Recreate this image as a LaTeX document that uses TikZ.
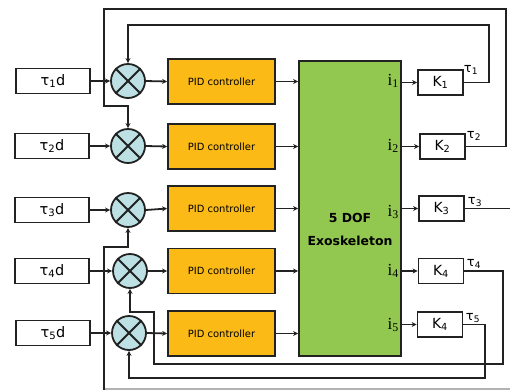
\documentclass[tikz,border=0pt]{standalone}
\usepackage{fontspec}
\setmainfont{DejaVu Sans}
\newfontfamily\serifi{Liberation Serif}
\usetikzlibrary{arrows.meta}
\definecolor{pidfill}{HTML}{FBBA16}
\definecolor{exofill}{HTML}{92C850}
\definecolor{sumfill}{HTML}{BCE0E3}
\definecolor{wire}{HTML}{222222}
\tikzset{
  refbox/.style={draw=wire, line width=1.8pt, fill=white, minimum width=74bp, minimum height=25bp, inner sep=0pt, font=\fontsize{14.5}{14}\selectfont},
  pidbox/.style={draw=wire, line width=1.8pt, fill=pidfill, minimum width=107bp, minimum height=45bp, inner sep=0pt, font=\fontsize{10}{10}\selectfont},
  gainbox/.style={draw=wire, line width=1.8pt, fill=white, minimum width=45bp, minimum height=25bp, inner sep=0pt, font=\fontsize{14}{14}\selectfont},
  sumnode/.style={draw=wire, line width=1.8pt, fill=sumfill, circle, minimum size=34bp, inner sep=0pt},
  wireline/.style={draw=wire, line width=1.8pt},
  arr/.style={wireline, -{Stealth[length=5bp,width=5bp]}},
  ilabel/.style={font=\serifi\fontsize{17}{17}\selectfont, inner sep=0pt, anchor=east},
  taulabel/.style={font=\fontsize{13}{13}\selectfont, inner sep=0pt},
}
\begin{document}
\begin{tikzpicture}[x=1bp, y=-1bp]
\useasboundingbox (0,0) rectangle (510,390);

% reference torque blocks
\node[refbox] (in1) at (53,81)  {τ\textsubscript{1}d};
\node[refbox] (in2) at (52,146) {τ\textsubscript{2}d};
\node[refbox] (in3) at (52,210) {τ\textsubscript{3}d};
\node[refbox] (in4) at (52,271) {τ\textsubscript{4}d};
\node[refbox] (in5) at (53,333) {τ\textsubscript{5}d};

% summing junctions
\node[sumnode] (s1) at (128,81)  {};
\node[sumnode] (s2) at (128,146) {};
\node[sumnode] (s3) at (128,210) {};
\node[sumnode] (s4) at (130,271) {};
\node[sumnode] (s5) at (129,333) {};
\foreach \s in {s1,s2,s3,s4,s5}{
  \draw[wireline] (\s.45) -- (\s.225) (\s.135) -- (\s.315);
}

% controllers
\node[pidbox] (p1) at (221.5,81.5)  {PID controller};
\node[pidbox] (p2) at (221.5,146.5) {PID controller};
\node[pidbox] (p3) at (221.5,208.5) {PID controller};
\node[pidbox] (p4) at (221.5,271)   {PID controller};
\node[pidbox] (p5) at (221.5,333.5) {PID controller};

% plant
\node[draw=wire, line width=1.8pt, fill=exofill, minimum width=102bp, minimum height=295bp, inner sep=0pt] (exo) at (350,208.5) {};
\node[font=\bfseries\fontsize{12.5}{12}\selectfont, inner sep=0pt] (t1) at (350,218) {5 DOF};
\node[font=\bfseries\fontsize{12.5}{12}\selectfont, inner sep=0pt] (t2) at (350,241) {Exoskeleton};

% gain blocks
\node[gainbox] (k1) at (440.5,82.5)  {K\textsubscript{1}};
\node[gainbox] (k2) at (442.5,146.5) {K\textsubscript{2}};
\node[gainbox] (k3) at (441.5,208.5) {K\textsubscript{3}};
\node[gainbox] (k4) at (441,271)     {K\textsubscript{4}};
\node[gainbox] (k5) at (440,324.5)   {K\textsubscript{4}};

% current labels
\node[ilabel] (i1) at (399,81)  {i\textsubscript{1}};
\node[ilabel] (i2) at (399,146) {i\textsubscript{2}};
\node[ilabel] (i3) at (399,212) {i\textsubscript{3}};
\node[ilabel] (i4) at (399,271) {i\textsubscript{4}};
\node[ilabel] (i5) at (399,325) {i\textsubscript{5}};

% torque labels
\node[taulabel] (u1) at (471,70)  {τ\textsubscript{1}};
\node[taulabel] (u2) at (474,136) {τ\textsubscript{2}};
\node[taulabel] (u3) at (475,202) {τ\textsubscript{3}};
\node[taulabel] (u4) at (474,264) {τ\textsubscript{4}};
\node[taulabel] (u5) at (473,318) {τ\textsubscript{5}};

% forward path
\foreach \n in {1,...,5}{
  \draw[arr] (in\n.east) -- (s\n.west);
  \draw[arr] (s\n.east) -- (p\n.west);
  \draw[arr] (p\n.east) -- (p\n.east -| exo.west);
  \draw[arr] (exo.east |- k\n.west) -- (k\n.west);
}

% feedback corners
\coordinate (a1) at (489,82.5);
\coordinate (a2) at (489,25);
\coordinate (a3) at (128,25);
\coordinate (b1) at (506,146.5);
\coordinate (b2) at (506,9);
\coordinate (b3) at (104,9);
\coordinate (b4) at (104,106);
\coordinate (b5) at (128,106);
\coordinate (c1) at (510,208.5);
\coordinate (c2) at (104,390);
\coordinate (c3) at (104,247);
\coordinate (c4) at (128,247);
\coordinate (c5) at (510,389);
\coordinate (c6) at (104,389);
\coordinate (d1) at (503,271);
\coordinate (d2) at (503,364);
\coordinate (d3) at (154,364);
\coordinate (d4) at (154,312);
\coordinate (d5) at (130,312);
\coordinate (e1) at (485,324.5);
\coordinate (e2) at (485,378);
\coordinate (e3) at (129,378);

% feedback paths
\draw[arr] (k1.east) -- (a1) -- (a2) -- (a3) -- (s1.north);
\draw[arr] (k2.east) -- (b1) -- (b2) -- (b3) -- (b4) -- (b5) -- (s2.north);
\draw[wireline] (k3.east) -- (c1);
\draw[draw=gray!60, line width=1.2pt] (c6) -- (c5);
\draw[arr] (c2) -- (c3) -- (c4) -- (s3.south);
\draw[arr] (k4.east) -- (d1) -- (d2) -- (d3) -- (d4) -- (d5) -- (s4.south);
\draw[arr] (k5.east) -- (e1) -- (e2) -- (e3) -- (s5.south);
\end{tikzpicture}
\end{document}
